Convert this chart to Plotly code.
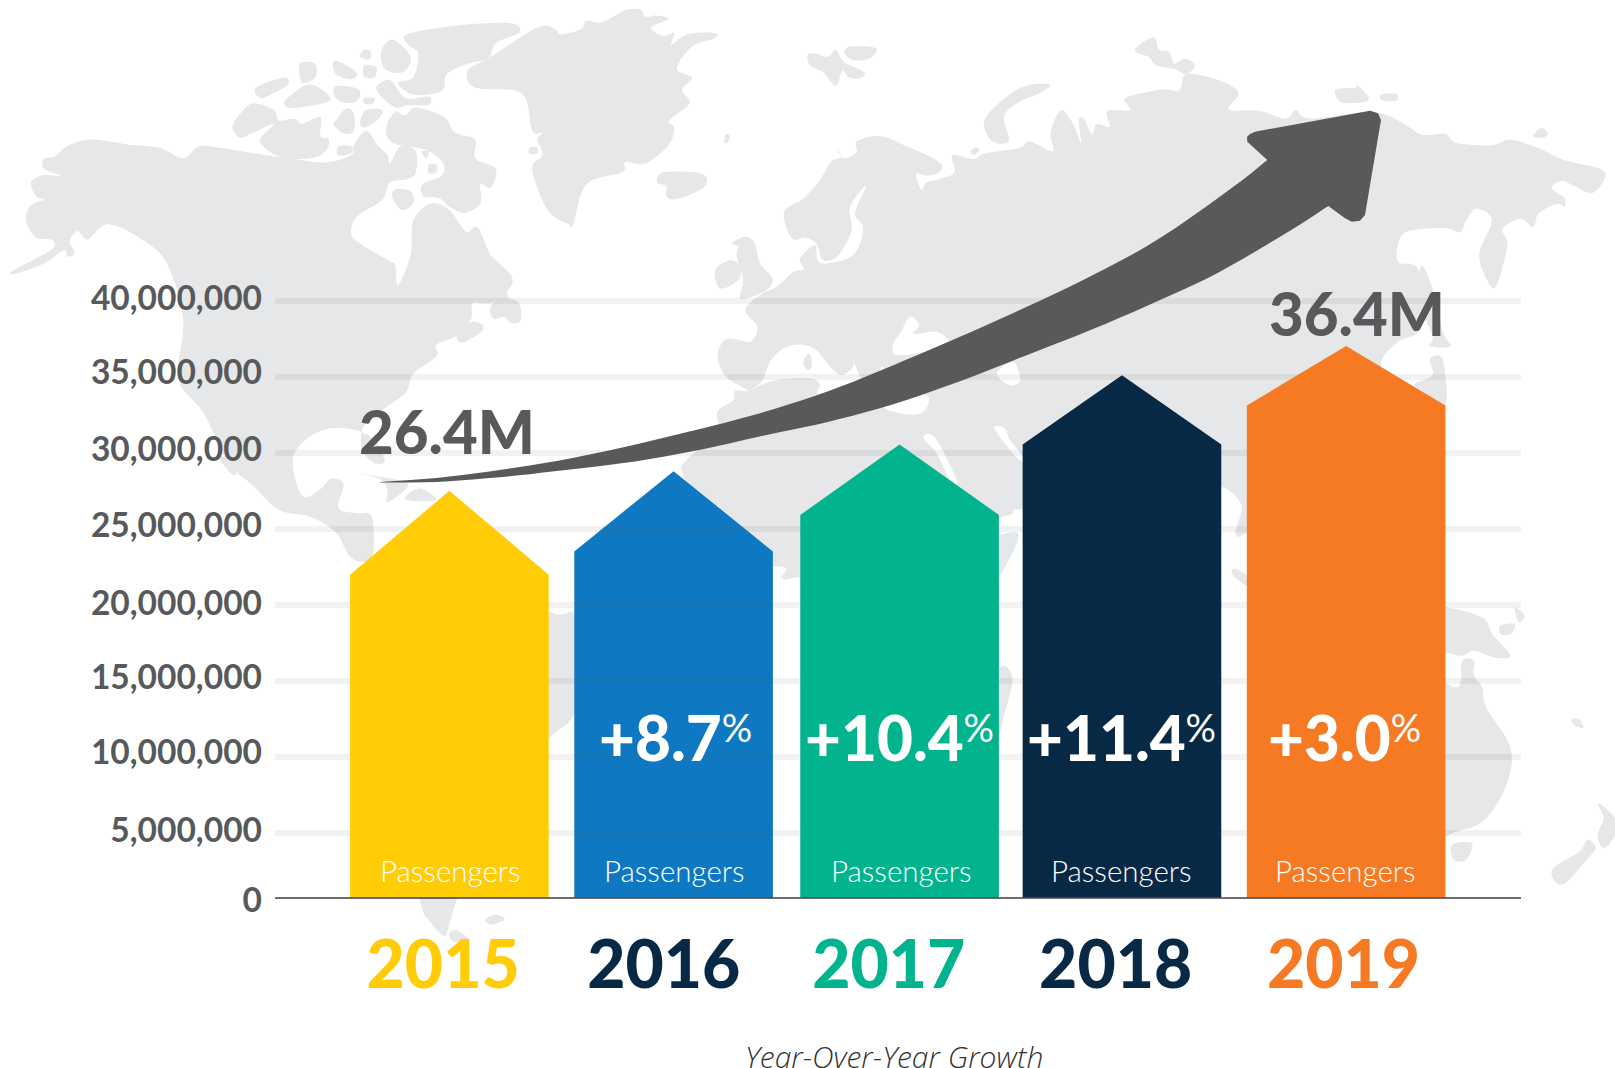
import plotly.graph_objects as go

# ---------- data ----------
years = [2015, 2016, 2017, 2018, 2019]
bar_centers = [2015, 2016, 2017.008, 2018, 2019]
peak_values = [27500000, 28790000, 30550000, 35090000, 37010000]
shoulder_values = [21980000, 23510000, 25910000, 30550000, 33110000]
bar_colors = ["#FFCC05", "#0E79C2", "#02B48E", "#082946", "#F67A23"]
year_colors = ["#FFCC05", "#082946", "#02B48E", "#082946", "#F67A23"]
growth_labels = ["", "+8.7", "+10.4", "+11.4", "+3.0"]
grid_values = [5000000, 10000000, 15000000, 20000000, 25000000, 30000000, 35000000, 40000000]
tick_labels = ["0", "5,000,000", "10,000,000", "15,000,000", "20,000,000", "25,000,000",
               "30,000,000", "35,000,000", "40,000,000"]
tick_label_values = [600000, 5180000, 10310000, 15210000, 20110000, 25240000, 30200000, 35300000, 40180000]
baseline_value = 760000
axis_floor = 400000
year_label_shift = [-0.028, -0.044, -0.04, -0.028, -0.012]
growth_label_px = [0, 675.5, 899, 1121, 1344.5]
passenger_label_px = [450, 674, 901, 1121.8, 1345.7]

# ---------- layout frame ----------
W, H = 1615, 1068
L, R, T, B = 275, 94, 100, 165.4
Y_TOP = 53190000
X_LOW, X_HIGH = 2014.222, 2019.78
HALF = 0.443
GREY = "#58595B"
LAND = "#E6E7E8"
FONT = "Lato, 'Open Sans', sans-serif"


def frame(x0, y0, fx, fy):
    return lambda pts: [(x0 + a / fx, y0 + b / fy) for a, b in pts]


G = frame(0, 0, 1.936, 2.904)
Z2 = frame(805, 0, 1.936, 2.904)
Z5 = frame(680, 180, 3, 3)
Z6 = frame(950, 300, 3, 3)
Z7 = frame(980, 500, 2.469, 2.99)
Z8 = frame(530, 480, 3, 3)


def px(x, y):
    return (x - L) / (W - L - R), 1 - (y - T) / (H - T - B)


def spline(pts, closed=True, n=5):
    out = []
    m = len(pts)
    rng = range(m) if closed else range(m - 1)
    for i in rng:
        if closed:
            p0, p1, p2, p3 = pts[i - 1], pts[i], pts[(i + 1) % m], pts[(i + 2) % m]
        else:
            p0, p1, p2, p3 = pts[max(i - 1, 0)], pts[i], pts[i + 1], pts[min(i + 2, m - 1)]
        for k in range(n):
            t = k / n
            q = []
            for c in (0, 1):
                a, b, d, e = p0[c], p1[c], p2[c], p3[c]
                q.append(0.5 * (2 * b + (d - a) * t + (2 * a - 5 * b + 4 * d - e) * t * t
                                + (3 * b - a - 3 * d + e) * t ** 3))
            out.append(tuple(q))
    if not closed:
        out.append(pts[-1])
    return out


def path(pts):
    parts = []
    for i, (x, y) in enumerate(pts):
        a, b = px(x, y)
        parts.append(("M" if i == 0 else "L") + f"{a:.5f},{b:.5f}")
    return " ".join(parts) + " Z"


def shape(pts, color, layer="below"):
    return dict(type="path", xref="paper", yref="paper", path=path(pts), fillcolor=color,
                line=dict(width=0), layer=layer)


# ---------- world map backdrop ----------
land = [
    # North America
    G([(25, 785), (100, 725), (100, 695), (70, 690), (50, 640), (60, 595), (85, 580), (70, 570), (60, 530),
       (85, 508), (120, 512), (85, 490), (85, 460), (105, 455), (130, 425), (175, 405), (250, 420), (310, 430),
       (355, 460), (385, 425), (430, 430), (520, 452), (570, 462), (630, 472), (680, 450), (685, 420), (710, 380),
       (730, 420), (750, 450), (755, 475), (775, 425), (805, 440), (805, 500), (790, 520), (755, 530), (740, 580),
       (690, 630), (680, 680), (700, 710), (750, 755), (765, 770), (770, 830), (795, 740), (800, 640), (835, 590),
       (870, 610), (890, 650), (905, 675), (925, 660), (950, 740), (990, 800), (985, 840), (950, 880), (915, 880),
       (912, 925), (885, 975), (845, 1000), (845, 1035), (800, 1085), (785, 1140), (740, 1190), (705, 1235),
       (700, 1300), (722, 1342), (745, 1338), (720, 1270), (660, 1242), (605, 1262), (567, 1330), (585, 1440),
       (620, 1420), (640, 1390), (665, 1405), (655, 1475), (692, 1490), (720, 1500), (720, 1620), (680, 1620),
       (650, 1545), (600, 1500), (540, 1480), (490, 1410), (440, 1340), (395, 1200), (345, 1100), (355, 930),
       (325, 770), (280, 700), (210, 650), (170, 695), (150, 670), (135, 700), (145, 735), (130, 745), (125, 725),
       (85, 765), (30, 795)]),
    G([(420, 1320), (440, 1335), (458, 1375), (445, 1372)]),
    # South America
    G([(700, 1650), (900, 1600), (1060, 1775), (1115, 1790), (1115, 2020), (1105, 2090), (1062, 2145), (950, 2340),
       (885, 2609), (872, 2670), (860, 2717), (830, 2670), (812, 2609), (740, 2200), (690, 1800)]),
    G([(940, 2669), (960, 2654), (977, 2669), (950, 2684)]),
    G([(870, 2709), (885, 2701), (908, 2729), (878, 2734)]),
    # Greenland and Ellesmere
    G([(945, 170), (905, 205), (920, 255), (1010, 270), (1030, 380), (1050, 385), (1040, 405), (1050, 450), (1030, 490),
       (1060, 610), (1100, 650), (1110, 650), (1135, 535), (1205, 500), (1210, 470), (1250, 475), (1295, 420),
       (1305, 370), (1295, 350), (1335, 300), (1320, 260), (1340, 225), (1310, 200), (1340, 135), (1385, 110),
       (1380, 95), (1330, 100), (1300, 130), (1305, 95), (1285, 105), (1260, 80), (1295, 55), (1270, 45), (1250, 50),
       (1240, 28), (1210, 30), (1165, 65), (1135, 60), (1125, 85), (1085, 100), (1075, 85), (1040, 80)]),
    G([(790, 98), (900, 72), (990, 68), (1005, 95), (960, 125), (945, 170), (905, 185), (865, 215), (855, 265),
       (800, 275), (770, 240), (800, 225), (810, 155), (790, 130)]),
    # Arctic islands
    G([(785, 335), (805, 312), (860, 340), (880, 385), (920, 405), (920, 460), (960, 490), (950, 545), (930, 535),
       (930, 590), (900, 618), (870, 600), (850, 575), (820, 570), (818, 535), (855, 510), (858, 475), (825, 435),
       (760, 415), (748, 370), (765, 325)]),
    G([(450, 370), (465, 330), (490, 300), (530, 320), (540, 350), (570, 345), (585, 360), (620, 340), (620, 395),
       (637, 405), (630, 440), (600, 460), (545, 458), (510, 425), (505, 400), (530, 360), (490, 385), (465, 400)]),
    G([(495, 255), (550, 225), (558, 245), (530, 270), (505, 285)]),
    G([(553, 290), (600, 245), (640, 290), (580, 312), (555, 310)]),
    G([(580, 185), (610, 185), (610, 225), (585, 240)]),
    G([(648, 175), (690, 210), (680, 230), (650, 215)]),
    G([(705, 145), (718, 150), (715, 172), (697, 165)]),
    G([(705, 190), (728, 195), (725, 225), (705, 222)]),
    G([(738, 150), (760, 115), (795, 165), (780, 210), (745, 200)]),
    G([(650, 250), (695, 260), (690, 295), (665, 298), (648, 280)]),
    G([(705, 285), (725, 285), (720, 302), (705, 300)]),
    G([(730, 250), (755, 232), (785, 285), (830, 280), (830, 305), (790, 305), (765, 312), (735, 275)]),
    G([(650, 350), (670, 315), (685, 330), (685, 380), (665, 388), (645, 360)]),
    G([(708, 320), (740, 320), (730, 350), (705, 370), (697, 355)]),
    G([(655, 425), (680, 425), (680, 445), (655, 452)]),
    G([(815, 440), (830, 440), (825, 460)]),
    G([(830, 478), (845, 478), (845, 500), (830, 503)]),
    G([(765, 550), (795, 555), (800, 590), (778, 610), (760, 575)]),
    G([(1025, 428), (1040, 428), (1040, 445), (1025, 447)]),
    G([(1405, 390), (1413, 395), (1408, 415), (1402, 412)]),
    G([(978, 850), (985, 865), (1005, 880), (1008, 930), (990, 938), (975, 920), (955, 925), (950, 890)]),
    G([(885, 975), (912, 935), (935, 945), (930, 965), (895, 995)]),
    G([(785, 1450), (812, 1417), (845, 1452)]),
    G([(700, 1375), (740, 1385), (785, 1400), (785, 1420), (750, 1458), (750, 1420), (735, 1390)]),
    G([(1285, 500), (1360, 505), (1362, 545), (1310, 578), (1290, 570), (1290, 540), (1272, 530)]),
    # Eurasia and Africa
    Z5([(205, 632), (150, 600), (120, 560), (115, 510), (145, 475), (210, 485), (232, 440), (195, 390), (240, 345),
        (290, 320), (340, 275), (372, 268), (360, 235), (405, 195), (412, 240), (440, 250), (520, 225), (550, 145),
        (525, 100), (560, 15), (510, 80), (515, 150), (480, 220), (445, 242), (425, 235), (408, 190), (375, 172),
        (335, 175), (312, 95), (370, 55), (420, 0)])
    + Z2([(50, 470), (70, 455), (60, 425), (75, 460), (100, 440), (100, 410), (145, 395), (190, 420), (260, 470),
          (260, 500), (235, 510), (215, 505), (225, 550), (235, 530), (260, 520), (290, 500), (285, 450), (325, 462),
          (350, 445), (415, 430), (435, 410), (480, 440), (475, 385), (495, 320), (515, 350), (525, 380), (535, 415),
          (530, 350), (540, 345), (555, 390), (565, 360), (590, 368), (585, 322), (630, 320), (620, 285), (690, 260),
          (725, 262), (738, 215), (800, 232), (840, 270), (820, 318), (880, 322), (930, 345), (950, 320), (980, 345),
          (1100, 325), (1160, 360), (1195, 392), (1240, 388), (1260, 415), (1330, 422), (1365, 405), (1420, 430),
          (1470, 465), (1548, 498), (1525, 560), (1490, 540), (1465, 525), (1445, 545), (1470, 575), (1470, 600),
          (1455, 592), (1420, 620), (1410, 660), (1385, 635), (1350, 665), (1360, 710), (1340, 825), (1325, 825),
          (1305, 740), (1330, 640), (1300, 605), (1280, 640), (1268, 675), (1240, 662), (1170, 670), (1150, 700),
          (1148, 760), (1185, 775), (1198, 860), (1190, 960), (1150, 990), (1118, 1040), (1118, 1090), (1140, 1200)])
    + Z6([(890, 700), (875, 615), (815, 560), (700, 560), (217, 625), (146, 655)])
    + Z8([(808, 290), (770, 265), (735, 258), (600, 260)])
    + Z5([(15, 900), (20, 840), (110, 760), (112, 695), (160, 660), (165, 632)]),
    # Europe and Asia islands
    Z5([(105, 270), (150, 240), (180, 260), (175, 300), (120, 325)]),
    Z5([(155, 190), (195, 170), (225, 190), (240, 250), (278, 295), (265, 325), (230, 345), (180, 355), (190, 300),
        (170, 230), (175, 200)]),
    Z2([(5, 160), (20, 155), (45, 165), (60, 145), (75, 180), (115, 210), (105, 228), (85, 225), (72, 205), (60, 250),
        (35, 210), (10, 190)]),
    Z2([(78, 145), (90, 135), (138, 140), (125, 170), (95, 175), (78, 160)]),
    Z2([(475, 247), (440, 245), (400, 270), (350, 340), (352, 390), (370, 415), (395, 408), (385, 340), (410, 300),
        (455, 270)]),
    Z2([(320, 440), (330, 428), (338, 435), (328, 450)]),
    Z2([(640, 140), (675, 108), (685, 145), (705, 150), (715, 185), (735, 170), (755, 190), (738, 215), (715, 200),
        (680, 190), (665, 165), (645, 155)]),
    Z2([(1028, 260), (1065, 255), (1070, 248), (1092, 290), (1045, 300), (1030, 285)]),
    Z2([(1115, 275), (1145, 272), (1145, 292), (1118, 292)]),
    Z2([(1410, 395), (1425, 372), (1438, 385), (1430, 400)]),
    Z2([(1193, 770), (1215, 840), (1235, 965), (1250, 1005), (1210, 1005), (1215, 975), (1190, 880)]),
    Z2([(1215, 1035), (1235, 1045), (1240, 1175), (1195, 1135), (1180, 1115), (1215, 1090), (1210, 1050)]),
    # Oceania and gaps between the bars
    Z7([(1100, 320), (1150, 320), (1240, 350), (1265, 400), (1310, 465), (1270, 470), (1220, 450), (1190, 465),
        (1150, 455), (1100, 455)]),
    Z7([(1320, 320), (1345, 345), (1330, 365)]),
    Z7([(1285, 375), (1320, 370), (1310, 400), (1285, 400)]),
    Z7([(1190, 480), (1220, 480), (1218, 520), (1240, 560), (1250, 620), (1310, 740), (1300, 850), (1250, 950),
        (1190, 985), (1100, 975), (1100, 560), (1180, 560)]),
    Z7([(1500, 1015), (1520, 1040), (1490, 1085), (1445, 1145), (1420, 1140), (1415, 1100), (1480, 1050)]),
    Z7([(1525, 905), (1568, 950), (1568, 1000), (1540, 1040), (1525, 1000), (1540, 950)]),
    Z7([(1165, 1030), (1215, 1025), (1200, 1075), (1170, 1075)]),
    Z7([(1460, 655), (1480, 655), (1490, 680), (1470, 675)]),
    Z7([(30, 125), (85, 95), (92, 125), (47, 230), (30, 240)]),
    Z7([(60, 495), (80, 540), (60, 640), (47, 700), (30, 700), (30, 540)]),
    Z7([(625, 205), (640, 210), (670, 235), (670, 265), (625, 225)]),
]

seas = [
    Z5([(205, 632), (245, 605), (270, 545), (310, 505), (360, 493), (410, 510), (450, 560), (485, 585), (520, 560),
        (518, 535), (548, 598), (620, 620), (425, 645), (420, 612), (390, 595), (300, 598), (250, 612)]),
    Z5([(455, 475), (495, 510), (518, 535), (505, 520)]),
    Z5([(690, 410), (718, 435), (700, 462), (770, 455), (810, 490), (760, 510), (650, 525), (640, 490), (660, 460)]),
    Z5([(605, 560), (615, 570), (620, 590), (600, 590)]),
    Z5([(610, 680), (680, 702), (730, 695), (745, 650), (680, 640)]),
    Z5([(945, 425), (970, 420), (990, 430), (950, 445)]),
    Z5([(950, 580), (1000, 545), (1020, 600), (990, 615)]),
    Z5([(730, 772), (765, 772), (830, 900), (810, 900), (770, 820)]),
    Z5([(942, 742), (975, 745), (990, 780), (1025, 825), (1025, 845), (990, 810)]),
]

shapes = [shape(spline(p), LAND) for p in land]
shapes += [shape(spline(p), "#FFFFFF") for p in seas]
shapes.append(shape(spline(Z5([(370, 545), (388, 520), (396, 555), (382, 570)])), LAND))

# growth arrow
arrow_upper = [(380, 481.7), (436.7, 477.7), (503, 469.3), (570, 458.3), (636.7, 444), (703, 428), (760, 413),
               (826.7, 391.7), (893.3, 365), (960, 336.7), (1026.7, 306.7), (1093, 275), (1160, 238), (1233, 187),
               (1267.3, 160)]
arrow_head = [(1247.3, 141.7), (1247, 137), (1250, 134), (1255, 131.7), (1370, 110.7), (1378, 113.3), (1381, 120),
              (1365, 215), (1360, 220.7), (1351.7, 221.7), (1345, 218.3), (1328.3, 206)]
arrow_lower = [(1328.3, 206), (1283, 235), (1216.7, 273.3), (1160, 300), (1093, 329), (1026.7, 355), (960, 381),
               (893.3, 404), (826.7, 422), (770, 434), (703, 449), (636.7, 461), (570, 469.3), (503, 476.7),
               (436.7, 481.7), (380, 482.3)]
shapes.append(shape(spline(arrow_upper, closed=False) + arrow_head + spline(arrow_lower, closed=False), GREY,
                    layer="above"))

# ---------- traces ----------
fig = go.Figure()
for center, peak, shoulder, color, year in zip(bar_centers, peak_values, shoulder_values, bar_colors, years):
    fig.add_trace(go.Scatter(
        x=[center - HALF, center - HALF, center, center + HALF, center + HALF],
        y=[baseline_value, shoulder, peak, shoulder, baseline_value],
        mode="lines", fill="toself", fillcolor=color, line=dict(width=0, color=color),
        name=str(year), showlegend=False, hoverinfo="skip"))

# faint gridlines also cross the 2016 bar in the reference
band_x, band_y = [], []
for v in grid_values:
    if v < peak_values[1]:
        ratio = 1 if v <= shoulder_values[1] else (peak_values[1] - v) / (peak_values[1] - shoulder_values[1])
        band_x += [2016 - HALF * ratio, 2016 + HALF * ratio, None]
        band_y += [v, v, None]
fig.add_trace(go.Scatter(x=band_x, y=band_y, mode="lines", showlegend=False, hoverinfo="skip",
                         line=dict(width=5.5, color="rgba(88,89,91,0.08)")))

# carrier for the axis holding the tick labels
fig.add_trace(go.Scatter(x=[years[0]], y=[baseline_value], yaxis="y2", mode="markers", showlegend=False,
                         hoverinfo="skip", marker=dict(opacity=0, size=1)))

# ---------- text ----------
annotations = []


def note(text, x, y, size, color, weight=700, family=FONT, italic=False):
    a, b = px(x, y)
    annotations.append(dict(text=text, x=a, y=b, xref="paper", yref="paper", showarrow=False,
                            xanchor="center", yanchor="middle",
                            font=dict(size=size, color=color, family=family, weight=weight,
                                      style="italic" if italic else "normal")))


PCT = "<span style='font-size:46px'><sup><span style='font-weight:400;font-size:38px'>%</span></sup></span>"
note("26.4M", 447, 431, 60, GREY, weight=900)
note("36.4M", 1357, 313, 60, GREY, weight=900)
for lab, gx, ptx in zip(growth_labels, growth_label_px, passenger_label_px):
    if lab:
        note(lab + PCT, gx, 737, 62, "#FFFFFF", weight=900)
    note("Passengers", ptx, 870, 29.5, "#FFFFFF", weight=300)
note("Year-Over-Year Growth", 894, 1056, 30, "#333333", weight=300, family="'Open Sans', sans-serif", italic=True)

fig.update_layout(
    width=W, height=H, autosize=False, showlegend=False,
    margin=dict(l=L, r=R, t=T, b=B, pad=0),
    paper_bgcolor="#FFFFFF", plot_bgcolor="rgba(0,0,0,0)",
    shapes=shapes, annotations=annotations,
    xaxis=dict(range=[X_LOW, X_HIGH], showgrid=False, zeroline=False, showline=True, linewidth=2,
               anchor="free", position=(baseline_value - axis_floor) / (Y_TOP - axis_floor),
               linecolor="rgba(35,31,32,0.65)", ticks="", ticklabelstandoff=10,
               tickmode="array", tickvals=[y + s for y, s in zip(years, year_label_shift)],
               ticktext=[f"<span style='color:{c}'>{y}</span>" for y, c in zip(years, year_colors)],
               tickfont=dict(size=66, family=FONT, weight=900)),
    yaxis=dict(range=[axis_floor, Y_TOP], tickmode="array", tickvals=grid_values, showticklabels=False,
               showgrid=True, gridwidth=5.5, gridcolor="rgba(88,89,91,0.08)", zeroline=False, showline=False,
               ticks=""),
    yaxis2=dict(range=[axis_floor, Y_TOP], overlaying="y", side="left", anchor="x", showgrid=False,
                zeroline=False, showline=False, tickmode="array", tickvals=tick_label_values, ticktext=tick_labels,
                ticks="", ticklabelstandoff=12, tickfont=dict(size=33.5, family=FONT, weight=700, color=GREY)),
)

fig.write_html("out.html", config=dict(displayModeBar=False),
               post_script="document.body.style.margin='0';document.body.style.overflow='hidden';")
